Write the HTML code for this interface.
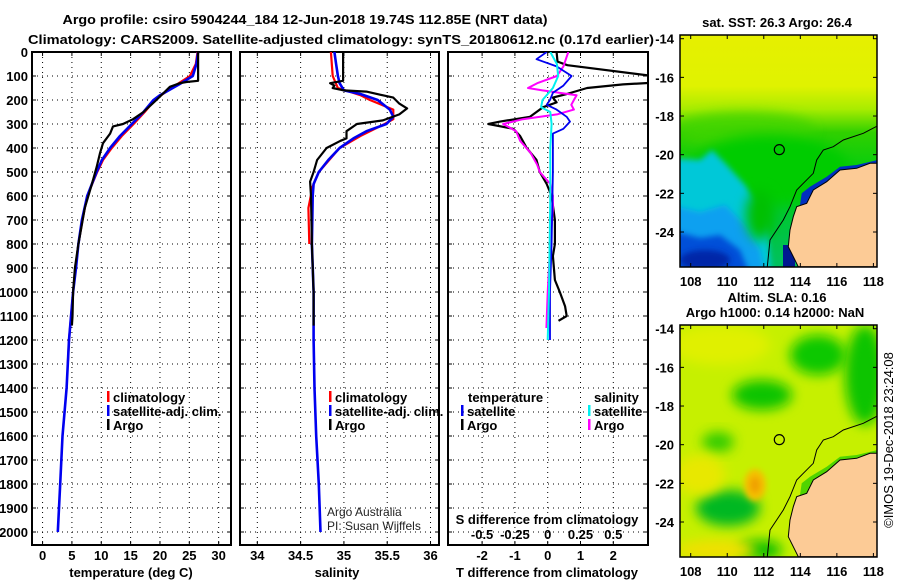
<!DOCTYPE html>
<html><head><meta charset="utf-8">
<style>
html,body{margin:0;padding:0;background:#fff;}
svg{display:block;font-family:"Liberation Sans",sans-serif;}
.b{font-weight:bold;font-size:13px;}
</style></head>
<body>
<svg id="fig" width="900" height="580" viewBox="0 0 900 580">
<defs>
<clipPath id="c1"><rect x="32" y="52" width="199" height="493"/></clipPath>
<clipPath id="c2"><rect x="240" y="52" width="199" height="493"/></clipPath>
<clipPath id="c3"><rect x="448" y="52" width="200" height="493"/></clipPath>
<clipPath id="m1"><rect x="680" y="35" width="197" height="232"/></clipPath>
<clipPath id="m2"><rect x="680" y="325" width="197" height="232"/></clipPath>
<filter id="blur" x="-50%" y="-50%" width="200%" height="200%"><feGaussianBlur stdDeviation="6"/></filter>
<filter id="blur2" x="-50%" y="-50%" width="200%" height="200%"><feGaussianBlur stdDeviation="3"/></filter>
<linearGradient id="sstg" x1="0" y1="0" x2="0" y2="1">
<stop offset="0" stop-color="#e6f000"/><stop offset="0.22" stop-color="#e0f200"/><stop offset="0.32" stop-color="#a8ec00"/><stop offset="0.42" stop-color="#30d000"/><stop offset="0.6" stop-color="#00cc10"/><stop offset="1" stop-color="#00c060"/>
</linearGradient>
</defs>
<text x="305" y="24" text-anchor="middle" class="b" font-size="14" textLength="485" lengthAdjust="spacingAndGlyphs">Argo profile: csiro 5904244_184 12-Jun-2018 19.74S 112.85E (NRT data)</text>
<text x="341" y="44" text-anchor="middle" class="b" font-size="14" textLength="626" lengthAdjust="spacingAndGlyphs">Climatology: CARS2009. Satellite-adjusted climatology: synTS_20180612.nc (0.17d earlier)</text>
<g id="panels"></g>
<g id="maps"></g>
</svg>
<script>
// ---- data (depth in m) ----
const argoTDepth=[0,120,125,130,145,200,250,280,300,310,340,380,420,480,550,650,800,900,1000,1100,1140];
const argoT=[26.5,26.5,24.5,23.4,21.7,19.4,17.2,15.4,13.7,12.0,11.5,10.3,9.8,9.2,8.4,7.2,6.1,5.5,5.2,5.1,5.0];
const climDepth=[0,50,100,130,180,200,250,300,350,400,450,500,600,700,800,900,1000,1200,1300];
const climT=[26.4,26.1,25.1,23.2,20.2,19.1,17.4,15.5,13.5,11.8,10.3,9.3,7.6,6.8,6.1,5.6,5.2,4.5,4.3];
const satDepth=[0,50,100,130,180,200,250,300,350,400,450,500,600,700,800,900,1000,1200,1400,1600,1800,2000];
const satT=[26.5,26.2,25.6,23.6,20.0,18.9,17.2,15.2,13.2,11.5,10.1,9.2,7.6,6.7,6.1,5.7,5.2,4.5,4.1,3.4,3.0,2.6];

const argoSDepth=[0,120,130,140,150,160,165,190,215,235,260,285,300,330,360,370,400,450,500,540,600,800,1000,1140];
const argoS=[34.99,34.99,34.84,34.89,34.87,35.0,35.26,35.57,35.64,35.73,35.64,35.45,35.15,35.03,35.03,34.96,34.80,34.69,34.65,34.61,34.62,34.63,34.65,34.65];
const climS=[34.85,34.86,34.87,34.93,35.19,35.30,35.57,35.57,35.47,35.19,34.95,34.71,34.64,34.59,34.60];
const climSDepth=[0,50,100,150,180,200,240,280,300,350,400,500,560,650,800];
const satS=[34.89,34.91,34.93,34.95,35.0,35.19,35.39,35.53,35.57,35.49,35.26,35.11,34.95,34.82,34.71,34.65,34.64,34.63,34.65,34.65,34.66,34.68,34.71,34.73];
const satSDepth=[0,50,100,130,160,175,200,240,270,300,330,360,400,450,500,550,600,800,1000,1200,1400,1600,1800,2000];

const dTArgoDepth=[0,40,55,100,128,135,150,175,190,210,230,250,270,290,300,320,350,400,450,500,550,600,700,800,850,950,1000,1060,1100,1120];
const dTArgo=[0.27,0.3,0.6,3.2,3.2,2.3,1.2,0.58,0.16,0.27,-0.14,-0.34,-0.54,-1.45,-1.81,-1.05,-0.84,-0.64,-0.34,-0.24,-0.03,0.12,0.22,0.22,0.16,0.22,0.37,0.53,0.58,0.33];
const dTSatDepth=[0,30,60,100,140,170,200,220,240,270,290,320,340,380,500,800,1000,1200];
const dTSat=[-0.03,-0.34,0.27,0.73,0.48,0.16,0.07,-0.03,0.27,0.58,0.68,0.48,0.16,0.16,0.16,0.12,0.07,0.07];
const dSArgoDepth=[0,60,100,130,150,160,180,200,220,240,260,280,300,330,370,420,470,500,550,600,650,800,1000,1150];
const dSArgo=[0.157,0.12,0.07,-0.08,-0.15,-0.04,0.22,0.20,0.18,0.20,0.07,-0.19,-0.34,-0.24,-0.21,-0.13,-0.08,-0.06,0.02,0.04,0.04,0.02,0.0,-0.01];
const dSSatDepth=[0,50,100,150,200,230,250,300,400,600,1000,1200];
const dSSat=[0.02,0.07,0.08,0.04,-0.04,-0.05,0.02,0.03,0.02,0.02,0.01,0.0];

const depthTicks=[0,100,200,300,400,500,600,700,800,900,1000,1100,1200,1300,1400,1500,1600,1700,1800,1900,2000];
const tTicks=[0,5,10,15,20,25,30];
const sTicks=[34,34.5,35,35.5,36];
const sTickLabels=["34","34.5","35","35.5","36"];
const dTTicks=[-2,-1,0,1,2];
const dSTicks=[-0.5,-0.25,0,0.25,0.5];
const dSTickLabels=["-0.5","-0.25","0","0.25","0.5"];
const latTicks=[-14,-16,-18,-20,-22,-24];
const lonTicks=[108,110,112,114,116,118];

// ---- scales ----
const yD=d=>52+d*0.24;
const xT=t=>32+(t+1.8)*5.87;
const xS=s=>240+(s-33.8)*86.6;
const xDT=v=>547.7+v*32.8;
const xDS=v=>547.7+v*131.2;
const NS="http://www.w3.org/2000/svg";
const P=document.getElementById('panels');
function mk(tag,attrs,parent){const e=document.createElementNS(NS,tag);for(const k in attrs)e.setAttribute(k,attrs[k]);(parent||P).appendChild(e);return e;}
function txt(x,y,s,attrs,parent){const e=mk('text',Object.assign({x:x,y:y},attrs||{}),parent);e.textContent=s;return e;}
function line(xs,ds,sx,color,w,clip,name){
  const pts=xs.map((v,i)=>sx(v).toFixed(1)+','+yD(ds[i]).toFixed(1)).join(' ');
  const e=mk('polyline',{points:pts,fill:'none',stroke:color,'stroke-width':w,'clip-path':'url(#'+clip+')','stroke-linejoin':'round'});
  
  
}
function frame(x0,x1,clip,vx,name){
  const g=mk('g',{});
  
  
  depthTicks.forEach(d=>{mk('line',{x1:x0,x2:x1,y1:yD(d),y2:yD(d),stroke:'#000','stroke-width':1,'stroke-dasharray':'1 4'},g);
    mk('line',{x1:x0,x2:x0+4,y1:yD(d),y2:yD(d),stroke:'#000'},g);mk('line',{x1:x1-4,x2:x1,y1:yD(d),y2:yD(d),stroke:'#000'},g);});
  vx.forEach(x=>{mk('line',{x1:x,x2:x,y1:52,y2:545,stroke:'#000','stroke-width':1,'stroke-dasharray':'1 4'},g);
    mk('line',{x1:x,x2:x,y1:541,y2:545,stroke:'#000'},g);mk('line',{x1:x,x2:x,y1:52,y2:56,stroke:'#000'},g);});
  mk('rect',{x:x0,y:52,width:x1-x0,height:493,fill:'none',stroke:'#000','stroke-width':2},g);
}
frame(32,231,'c1',tTicks.map(xT),'temperature-panel');
frame(240,439,'c2',sTicks.map(xS),'salinity-panel');
frame(448,648,'c3',dTTicks.map(xDT),'difference-panel');
depthTicks.forEach(d=>{const e=txt(28,yD(d)+5,String(d),{'text-anchor':'end',class:'b'});
  
  });
tTicks.forEach(t=>{const e=txt(xT(t),560,String(t),{'text-anchor':'middle',class:'b'});
  
  });
sTicks.forEach((s,i)=>{const e=txt(xS(s),560,sTickLabels[i],{'text-anchor':'middle',class:'b'});
  
  });
dTTicks.forEach(t=>{const e=txt(xDT(t),560,String(t),{'text-anchor':'middle',class:'b'});
  
  });
dSTicks.forEach((s,i)=>{const e=txt(xDS(s),539,dSTickLabels[i],{'text-anchor':'middle',class:'b'});
  
  });
let e;
e=txt(131,577,'temperature (deg C)',{'text-anchor':'middle',class:'b'});
e=txt(337,577,'salinity',{'text-anchor':'middle',class:'b'});
e=txt(547,577,'T difference from climatology',{'text-anchor':'middle',class:'b'});
e=txt(547,524,'S difference from climatology',{'text-anchor':'middle',class:'b'});
e=txt(327,516,'Argo Australia',{'font-size':12,fill:'#222'});
e=txt(327,530,'PI: Susan Wijffels',{'font-size':12,fill:'#222'});

line(climT,climDepth,xT,'#f00',2.2,'c1','temperature-climatology-line');
line(satT,satDepth,xT,'#0000f0',2.6,'c1','temperature-satellite-line');
line(argoT,argoTDepth,xT,'#000',2.2,'c1','temperature-argo-line');
line(climS,climSDepth,xS,'#f00',2.2,'c2','salinity-climatology-line');
line(satS,satSDepth,xS,'#0000f0',2.6,'c2','salinity-satellite-line');
line(argoS,argoSDepth,xS,'#000',2.2,'c2','salinity-argo-line');
line(dTArgo,dTArgoDepth,xDT,'#000',2.2,'c3','t-diff-argo-line');
line(dSArgo,dSArgoDepth,xDS,'#ff00ff',2,'c3','s-diff-argo-line');
line(dTSat,dTSatDepth,xDT,'#0000f0',1.8,'c3','t-diff-satellite-line');
line(dSSat,dSSatDepth,xDS,'#00f0f0',2,'c3','s-diff-satellite-line');

function leg(x,y,color,label,name){
  const g=mk('g',{});
  
  
  mk('rect',{x:x,y:y-11,width:2.5,height:11,fill:color},g);
  txt(x+6,y,label,{class:'b'},g);
}
leg(107,402,'#f00','climatology','legend-climatology');
leg(107,416,'#0000f0','satellite-adj. clim.','legend-satellite');
leg(107,430,'#000','Argo','legend-argo');
leg(329,402,'#f00','climatology','legend-climatology-s');
leg(329,416,'#0000f0','satellite-adj. clim.','legend-satellite-s');
leg(329,430,'#000','Argo','legend-argo-s');
e=txt(468,402,'temperature',{class:'b'});
leg(461,416,'#0000f0','satellite','legend-t-satellite');
leg(461,430,'#000','Argo','legend-t-argo');
e=txt(594,402,'salinity',{class:'b'});
leg(588,416,'#00f0f0','satellite','legend-s-satellite');
leg(588,430,'#ff00ff','Argo','legend-s-argo');

// ---- maps ----
const M=document.getElementById('maps');
const lonX=l=>690.7+(l-108)*18.27;
const land=[[622,490],[600,490],[560,505],[510,510],[470,545],[430,570],[410,610],[380,620],[370,650],[360,690],[355,740],[385,800],[640,800],[640,490]];
const shelf=[[622,378],[580,400],[520,420],[490,440],[460,450],[440,480],[430,520],[400,550],[380,570],[360,620],[340,660],[300,720],[292,800]];
const coastBlue=[[622,480],[560,495],[510,500],[470,530],[420,560],[395,580],[390,615],[410,615],[430,570],[470,545],[510,510],[560,505],[622,490]];
function mapPanel(top,clip,kind,name){
  const g=mk('g',{},M);
  
  
  const c=mk('g',{'clip-path':'url(#'+clip+')'},g);
  const pp=arr=>arr.map(p=>(670+p[0]/3).toFixed(1)+','+(top-35+p[1]/3).toFixed(1)).join(' ');
  const pa=arr=>arr.map(p=>p[0]+','+(top-35+p[1])).join(' ');
  if(kind==='sst'){
    mk('rect',{x:680,y:top,width:197,height:232,fill:'url(#sstg)'},c);
    mk('ellipse',{cx:745,cy:top+95,rx:70,ry:18,fill:'#40d400',filter:'url(#blur)',opacity:0.8},c);
    mk('ellipse',{cx:770,cy:top+135,rx:80,ry:35,fill:'#00cc00',filter:'url(#blur)'},c);
    mk('polygon',{points:pa([[670,158],[700,160],[712,150],[725,163],[745,185],[758,205],[768,235],[772,280],[670,280]]),fill:'#00c8d8',filter:'url(#blur2)'},c);
    mk('polygon',{points:pa([[670,205],[700,212],[725,205],[745,225],[760,250],[766,280],[670,280]]),fill:'#10a0f0',filter:'url(#blur2)'},c);
    mk('polygon',{points:pa([[670,230],[700,238],[720,235],[740,250],[752,280],[670,280]]),fill:'#0050d8',filter:'url(#blur2)'},c);
    mk('ellipse',{cx:705,cy:top+225,rx:25,ry:10,fill:'#0028a8',filter:'url(#blur2)'},c);
    mk('ellipse',{cx:760,cy:top+180,rx:14,ry:25,fill:'#00c000',filter:'url(#blur)'},c);
    mk('polygon',{points:pp(coastBlue),fill:'#0030c0'},c);
    mk('rect',{x:783,y:top+210,width:12,height:22,fill:'#001890'},c);
  } else {
    mk('rect',{x:680,y:top,width:197,height:232,fill:'#c6f000'},c);
    const blobs=[[818,top+30,28,20,'#10c800'],[762,top+70,30,15,'#10c400'],[718,top+117,16,10,'#30cc00'],[728,top+183,32,18,'#00b820'],[865,top+50,20,50,'#10c400'],[760,top+225,22,10,'#10c000'],[720,top+20,50,20,'#e0f000'],[700,top+150,25,20,'#e8e800'],[716,top+225,40,10,'#f0e000']];
    blobs.forEach(b=>mk('ellipse',{cx:b[0],cy:b[1],rx:b[2],ry:b[3],fill:b[4],filter:'url(#blur)'},c));
    mk('ellipse',{cx:755,cy:top+160,rx:11,ry:16,fill:'#f4c000',filter:'url(#blur2)'},c);
    mk('ellipse',{cx:755,cy:top+160,rx:5,ry:8,fill:'#f0a000',filter:'url(#blur2)'},c);
    mk('polygon',{points:pp(coastBlue),fill:'#50d400'},c);
  }
  mk('polygon',{points:pp(land),fill:'#fccb96',stroke:'#000','stroke-width':1},c);
  mk('polyline',{points:pp(shelf),fill:'none',stroke:'#000','stroke-width':1},c);
  const ci=mk('circle',{cx:lonX(112.85),cy:top+3.7+(19.74-14)*19.33,r:5,fill:'none',stroke:'#000','stroke-width':1.2},g);
  
  
  mk('rect',{x:680,y:top,width:197,height:232,fill:'none',stroke:'#000','stroke-width':1.5},g);
  latTicks.forEach(l=>{const y=top+3.7+(-14-l)*19.33;
    mk('line',{x1:680,x2:684,y1:y,y2:y,stroke:'#000'},g);mk('line',{x1:873,x2:877,y1:y,y2:y,stroke:'#000'},g);
    const t=txt(674,y+5,String(l),{'text-anchor':'end',class:'b'},g);
    
    });
  lonTicks.forEach(l=>{const x=lonX(l);
    mk('line',{x1:x,x2:x,y1:top,y2:top+4,stroke:'#000'},g);mk('line',{x1:x,x2:x,y1:top+228,y2:top+232,stroke:'#000'},g);
    const t=txt(x,top+251,String(l),{'text-anchor':'middle',class:'b'},g);
    
    });
}
mapPanel(35,'m1','sst','sst-map');
mapPanel(325,'m2','sla','sla-map');
e=txt(777,27,'sat. SST: 26.3 Argo: 26.4',{'text-anchor':'middle',class:'b'},M);
e=txt(777,302,'Altim. SLA: 0.16',{'text-anchor':'middle',class:'b'},M);
e=txt(775,317,'Argo h1000: 0.14 h2000: NaN',{'text-anchor':'middle',class:'b'},M);
e=txt(0,0,'©IMOS 19-Dec-2018 23:24:08',{'text-anchor':'middle','font-size':13,transform:'translate(893,440) rotate(-90)'},M);
</script>
</body></html>
